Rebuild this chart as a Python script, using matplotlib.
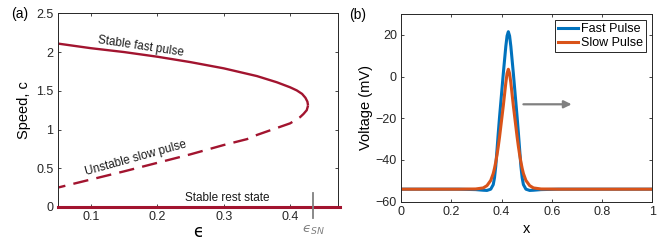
import matplotlib
matplotlib.use("Agg")
import matplotlib.pyplot as plt

plt.rcParams['font.family'] = ['Liberation Sans', 'DejaVu Sans']
plt.rcParams['mathtext.fontset'] = 'dejavusans'

# ---------------- data: panel (a) ----------------
fast_eps = [0.05, 0.10, 0.15, 0.20, 0.25, 0.30, 0.35, 0.38, 0.40, 0.41, 0.418, 0.423, 0.426, 0.427]
fast_c = [2.11, 2.05, 2.00, 1.94, 1.87, 1.79, 1.69, 1.61, 1.545, 1.505, 1.46, 1.41, 1.36, 1.31]
slow_eps = [0.427, 0.425, 0.42, 0.415, 0.40, 0.385, 0.35, 0.335, 0.30, 0.25, 0.20, 0.15, 0.10, 0.05]
slow_c = [1.31, 1.25, 1.20, 1.16, 1.08, 1.035, 0.93, 0.876, 0.80, 0.68, 0.57, 0.46, 0.355, 0.25]
rest_eps = [0.05, 0.475]
rest_c = [0.0, 0.0]
eps_sn = 0.435
a_xticks = [0.1, 0.2, 0.3, 0.4]
a_yticks = [0, 0.5, 1, 1.5, 2, 2.5]
a_ytick_labels = ['0', '0.5', '1', '1.5', '2', '2.5']

# ---------------- data: panel (b) ----------------
pulse_x = [0.0, 0.227, 0.297, 0.327, 0.342, 0.357, 0.367, 0.372, 0.377, 0.382, 0.387, 0.392,
           0.397, 0.402, 0.407, 0.412, 0.417, 0.422, 0.427,
           0.432, 0.437, 0.442, 0.447, 0.452, 0.457, 0.462, 0.467, 0.472, 0.477, 0.482,
           0.487, 0.497, 0.512, 0.527, 0.557, 0.627, 1.0]
fast_v = [-54, -54, -54.2, -54.5, -54.6, -54, -51.8, -48.5, -43, -35, -27, -19.5,
          -12.5, -5.5, 1.5, 8, 14.5, 19.5, 21.5,
          19.5, 14.5, 8, 1.5, -5.5, -12.5, -19.5, -27, -35, -43, -48.5,
          -51.8, -54, -54.6, -54.5, -54.2, -54, -54]
slow_v = [-54, -54, -53.9, -53.4, -52.3, -49.8, -46.5, -44, -41, -37.5, -33.5, -29,
          -24, -19, -14, -8.5, -3, 1.5, 3.5,
          1.5, -3, -8.5, -14, -19, -24, -29, -33.5, -37.5, -41, -44,
          -46.5, -49.8, -52.3, -53.4, -53.9, -54, -54]
arrow_x = [0.487, 0.679]
arrow_v = -13.3
b_xticks = [0, 0.2, 0.4, 0.6, 0.8, 1]
b_xtick_labels = ['0', '0.2', '0.4', '0.6', '0.8', '1']
b_yticks = [-60, -40, -20, 0, 20]

RED = '#A2142F'
BLUE = '#0072BD'
ORANGE = '#D95319'
GRAY = '#808080'

fig = plt.figure(figsize=(6.65, 2.47), dpi=100)
axA = fig.add_axes([0.0868, 0.162, 0.4219, 0.784])
axB = fig.add_axes([0.603, 0.1834, 0.378, 0.760])

def style(ax):
    ax.tick_params(direction='in', top=True, right=True, length=2.5, width=0.6,
                   labelsize=9, pad=3, colors='#262626', labelcolor='#262626')
    for s in ax.spines.values():
        s.set_linewidth(0.7)
        s.set_color('#262626')

# ---- panel (a) ----
axA.plot(fast_eps, fast_c, color=RED, lw=1.7, solid_capstyle='butt')
axA.plot(slow_eps, slow_c, color=RED, lw=1.7, dashes=(6.5, 3.5))
axA.plot(rest_eps, rest_c, color=RED, lw=2.2, clip_on=False, zorder=5)
axA.set_xlim(0.05, 0.4725)
axA.set_ylim(0, 2.5)
axA.set_xticks(a_xticks)
axA.set_yticks(a_yticks)
axA.set_yticklabels(a_ytick_labels)
style(axA)
axA.plot([eps_sn, eps_sn], [0.185, -0.146], color=GRAY, lw=1.3, clip_on=False, zorder=6)
axA.text(eps_sn, -0.30, '$\u03f5_{SN}$', color=GRAY, fontsize=9.5, ha='center', va='center',
         clip_on=False)
axA.set_xlabel('\u03f5', fontsize=12, labelpad=0, family='DejaVu Sans')
axA.set_ylabel('Speed, c', fontsize=10.5, labelpad=4)
axA.text(0.175, 2.07, 'Stable fast pulse', fontsize=8.5, rotation=-8.5, ha='center', va='center',
         rotation_mode='anchor', color='#1a1a1a')
axA.text(0.168, 0.63, 'Unstable slow pulse', fontsize=8.5, rotation=15.5, ha='center', va='center',
         rotation_mode='anchor', color='#1a1a1a')
axA.text(0.305, 0.115, 'Stable rest state', fontsize=8.5, ha='center', va='center', color='#1a1a1a')
fig.text(20 / 665, 1 - 14 / 247, '(a)', fontsize=10, ha='center', va='center')

# ---- panel (b) ----
axB.plot(pulse_x, fast_v, color=BLUE, lw=2.2, label='Fast Pulse')
axB.plot(pulse_x, slow_v, color=ORANGE, lw=2.2, label='Slow Pulse')
axB.set_xlim(0, 1)
axB.set_ylim(-60, 30)
axB.set_xticks(b_xticks)
axB.set_xticklabels(b_xtick_labels)
axB.set_yticks(b_yticks)
style(axB)
axB.annotate('', xy=(arrow_x[1], arrow_v), xytext=(arrow_x[0], arrow_v),
             arrowprops=dict(arrowstyle='-|>,head_width=0.22,head_length=0.45',
                             color=GRAY, lw=1.6, shrinkA=0, shrinkB=0))
axB.set_xlabel('x', fontsize=10.5, labelpad=3)
axB.set_ylabel('Voltage (mV)', fontsize=10.5, labelpad=2)
leg = axB.legend(loc='upper right', fontsize=9, frameon=True, fancybox=False,
                 edgecolor='#262626', framealpha=1, borderpad=0.25, handlelength=1.6,
                 handletextpad=0.2, labelspacing=0.15, borderaxespad=0.5)
leg.get_frame().set_linewidth(0.7)
fig.text(358 / 665, 1 - 15 / 247, '(b)', fontsize=10, ha='center', va='center')

fig.savefig('out.png', dpi=100)
